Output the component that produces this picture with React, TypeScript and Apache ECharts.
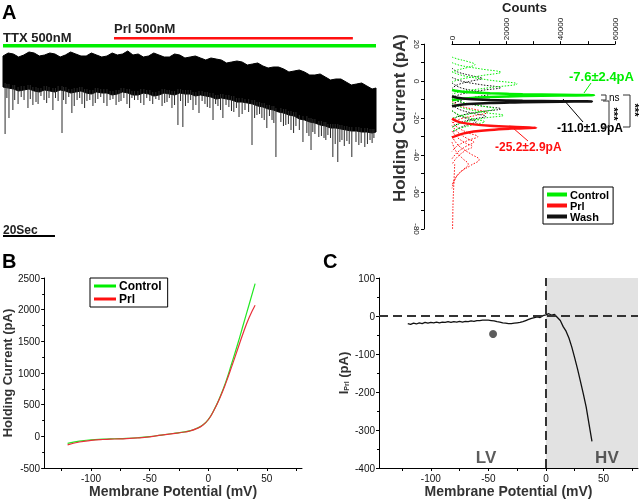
import React, { useEffect, useRef } from "react";
import * as echarts from "echarts";

const FONT = '"Liberation Sans", Arial, Helvetica, sans-serif';

// ---------------- Panel A: recording trace (time in s, current in pA, offset) ----------------
const traceTime = [0, 2, 4, 6, 8, 10, 12, 14, 16, 18, 20, 22, 24, 26, 28, 30, 32, 34, 36, 38, 40, 42, 44, 46, 48, 50, 52, 54, 56, 58, 60, 62, 64, 66, 68, 70, 72, 74, 76, 78, 80, 82, 84, 86, 88, 90, 92, 94, 96, 98, 100, 102, 104, 106, 108, 110, 112, 114, 116, 118, 120, 122, 124, 126, 128, 130, 132, 134, 136, 138, 140, 142, 143.5];
const traceUpper = [-8, -5, -6, -9, -7, -4, -5, -8, -7, -5, -6, -9, -7, -4, -6, -8, -8, -5, -7, -9, -8, -5, -7, -6, -3, -7, -6, -9, -8, -5, -7, -9, -9, -6, -7, -10, -9, -8, -10, -12, -10, -11, -12, -15, -14, -13, -14, -17, -16, -15, -18, -20, -19, -19, -21, -24, -23, -22, -24, -27, -27, -26, -29, -32, -31, -31, -34, -37, -36, -35, -38, -41, -40];
const traceLower = [-39, -40, -41, -43, -42, -41, -43, -44, -42, -43, -44, -42, -43, -45, -44, -43, -45, -46, -44, -45, -45, -47, -46, -44, -45, -47, -47, -45, -46, -48, -47, -45, -46, -47, -45, -46, -46, -48, -47, -48, -49, -51, -50, -51, -52, -54, -54, -55, -56, -58, -59, -61, -62, -64, -65, -67, -68, -71, -72, -74, -75, -77, -78, -80, -80, -81, -82, -83, -83, -84, -84, -85, -84];
const traceSpikes = [
  [0.8, -86], [1.5, -50], [2.3, -70], [3.8, -62], [4.5, -52], [5.8, -56], [7, -49], [8.1, -52], [9.6, -60], [10.5, -51],
  [11.5, -57], [12.7, -54], [13.5, -56], [14.6, -48], [15.8, -52], [16.8, -55], [17.7, -50], [19.2, -62], [20.2, -50], [21.2, -53],
  [22.7, -85], [23.3, -52], [24.2, -56], [25.3, -49], [26.5, -65], [27.4, -58], [28.5, -52], [29.5, -50], [30.4, -56], [31.4, -60],
  [32.3, -53], [33.4, -52], [34.6, -58], [35.5, -55], [36.5, -51], [37.6, -49], [38.8, -55], [40, -58], [41.2, -52], [42.3, -51],
  [43.5, -57], [44.6, -54], [45.4, -53], [46.5, -50], [47.7, -56], [48.7, -60], [49.6, -50], [50.6, -52], [51.9, -52], [53, -55],
  [54.2, -57], [55.3, -50], [56.5, -53], [57.6, -56], [58.8, -51], [60, -52], [61.2, -58], [62.2, -55], [63.1, -54], [64, -50],
  [65, -60], [66, -57], [67.3, -77], [68.3, -53], [69.2, -79], [70.2, -58], [71.2, -55], [72.2, -52], [73.1, -62], [74.2, -57],
  [75.4, -65], [76.6, -53], [77.7, -56], [78.6, -59], [79.6, -60], [80.8, -72], [81.8, -56], [82.7, -58], [83.7, -62], [84.6, -70],
  [85.8, -57], [86.9, -59], [87.9, -63], [88.8, -64], [89.8, -60], [90.8, -69], [92, -66], [93.1, -62], [94.5, -64], [95.8, -97],
  [96.8, -70], [97.7, -67], [98.7, -66], [99.6, -70], [100.5, -72], [101.5, -80], [102.5, -68], [103.5, -72], [104.2, -75], [105, -109],
  [106.9, -74], [107.9, -78], [108.8, -77], [109.8, -76], [110.8, -82], [111.8, -85], [112.7, -78], [114, -82], [115.4, -94], [116.9, -85],
  [117.7, -88], [118.5, -102], [119.2, -84], [120, -86], [121.5, -89], [122.5, -88], [123.5, -90], [124.2, -92], [125, -87], [126, -90],
  [126.9, -109], [127.8, -96], [128.8, -114], [129.6, -94], [130.4, -92], [131.3, -98], [132.3, -93], [133.2, -96], [134.2, -109], [135.8, -94],
  [136.9, -97], [137.8, -95], [139.2, -99], [140.2, -96], [141.2, -92], [142, -95], [142.7, -90],
];
const ttxPeriod = [0, 143.5];
const prlPeriod = [42.7, 134.6];
const scaleBarSec = [0, 20];

// ---------------- Panel A: holding-current histograms [counts, pA] ----------------
const controlPeak = [[0, -4.8], [2000, -5.4], [6000, -6.0], [14000, -6.6], [26000, -7.1], [40000, -7.4], [52300, -7.6], [40000, -7.8], [26000, -8.1], [14000, -8.6], [6000, -9.2], [2000, -9.8], [0, -10.4]];
const washPeak = [[0, -8.2], [2000, -9.0], [6000, -9.7], [14000, -10.2], [26000, -10.6], [40000, -10.85], [51500, -11.0], [40000, -11.15], [26000, -11.4], [14000, -11.8], [6000, -12.4], [2000, -13.0], [0, -13.6]];
const prlPeak = [[0, -20.3], [1500, -21.5], [4000, -22.6], [8000, -23.4], [14000, -24.1], [22000, -24.7], [31000, -25.2], [22000, -25.7], [14000, -26.4], [8000, -27.3], [4000, -28.4], [1500, -29.6], [0, -30.5]];

const controlCells = [
  [[0, 13], [2000, 12], [6000, 10.5], [8500, 9], [6000, 7.5], [2000, 6], [0, 5]],
  [[0, 10], [3000, 8.5], [11000, 6.5], [18000, 4.8], [11000, 3], [3000, 1], [0, -0.5]],
  [[0, 5], [4000, 3], [14000, 0.5], [24000, -1.5], [14000, -3.5], [4000, -5.5], [0, -7]],
  [[0, -9], [4000, -11.5], [11000, -13.5], [16000, -15], [11000, -16.5], [4000, -18.5], [0, -20]],
  [[0, -12], [4000, -14.5], [12000, -17], [19000, -18.5], [12000, -20], [4000, -22.5], [0, -25]],
  [[0, -16], [3000, -18.5], [8000, -20.5], [12000, -22], [8000, -23.5], [3000, -25.5], [0, -27]],
];
const washCells = [
  [[0, 7], [2000, 5], [7000, 3], [11000, 1.5], [7000, 0], [2000, -2], [0, -4]],
  [[0, 2], [3500, 0], [11000, -2], [18000, -3.5], [11000, -5], [3500, -7], [0, -9]],
  [[0, -1], [3000, -3.5], [9000, -5.5], [14000, -7], [9000, -8.5], [3000, -10.5], [0, -12.5]],
  [[0, -9], [3500, -11.5], [11000, -13.5], [18000, -15], [11000, -16.5], [3500, -18.5], [0, -21]],
  [[0, -13], [3000, -15.5], [8000, -17.5], [12500, -19], [8000, -20.5], [3000, -22.5], [0, -25]],
  [[0, -16], [2500, -18.5], [6000, -20.5], [9000, -22], [6000, -23.5], [2500, -25.5], [0, -28]],
];
const prlCells = [
  [[0, -11], [3000, -13.5], [9000, -15.5], [13000, -17], [9000, -18.5], [3000, -20.5], [0, -23]],
  [[0, -22], [2000, -25], [6000, -28], [9500, -30], [6000, -32], [2000, -35], [0, -38]],
  [[0, -24], [2000, -27.5], [5500, -31], [8000, -33], [5500, -35], [2000, -38.5], [0, -42]],
  [[0, -27], [2000, -30.5], [5000, -33.5], [7500, -35.5], [5000, -37.5], [2000, -41], [0, -45]],
  [[0, -30], [2500, -35], [7000, -39.5], [10000, -42.5], [7000, -45.5], [2500, -50], [0, -56]],
  [[0, -33], [1500, -38], [4000, -42], [6000, -45], [4000, -48], [1500, -52], [0, -58]],
  [[1000, -45], [700, -55], [400, -65], [300, -72], [200, -80]],
];

// ---------------- Panel B: I-V curves ----------------
const ivVoltage = [-120, -110, -100, -90, -80, -70, -60, -50, -40, -30, -20, -15, -10, -5, 0, 5, 10, 15, 20, 25, 30, 35, 40];
const ivControl = [-110, -75, -55, -45, -38, -32, -22, -5, 20, 45, 70, 90, 125, 175, 265, 420, 620, 860, 1150, 1450, 1770, 2090, 2410];
const ivPrl = [-135, -90, -65, -50, -42, -35, -25, -8, 18, 42, 68, 88, 122, 172, 262, 415, 610, 840, 1100, 1370, 1640, 1880, 2070];

// ---------------- Panel C: Prl-sensitive current ----------------
const diffVoltage = [-120, -117.5, -115, -112.5, -110, -107.5, -105, -102.5, -100, -97.5, -95, -92.5, -90, -87.5, -85, -82.5, -80, -77.5, -75, -72.5, -70, -67.5, -65, -62.5, -60, -57.5, -55, -52.5, -50, -47.5, -45, -42.5, -40, -37.5, -35, -32.5, -30, -27.5, -25, -22.5, -20, -17.5, -15, -12.5, -10, -7.5, -5, -2.5, 0, 2.5, 5, 7.5, 10, 12.5, 15, 17.5, 20, 22.5, 25, 27.5, 30, 32.5, 35, 37.5, 40];
const diffCurrent = [-20, -22, -19, -21, -18, -20, -17, -19, -17, -18, -16, -18, -16, -17, -15, -17, -15, -16, -14, -16, -14, -15, -13, -14, -12, -12, -11, -11, -11, -12, -13, -15, -16, -18, -19, -20, -20, -19, -18, -17, -15, -12, -9, -6, -4, -2, -4, 1, 3, 6, 2, 4, -4, -12, -28, -40, -58, -82, -110, -140, -172, -205, -240, -285, -330];
const lvMarker = [[-45.9, -47.4]];
const regionLabels = [{ name: "LV", value: [-52, -372] }, { name: "HV", value: [53, -372] }];

const GREEN = "#00ee00";
const RED = "#ff1010";

function cellSeries(curves: number[][][], color: string) {
  return curves.map((d) => ({
    type: "line",
    name: "cell",
    xAxisIndex: 1,
    yAxisIndex: 1,
    data: d,
    smooth: 0.4,
    showSymbol: false,
    silent: true,
    lineStyle: { color, width: 1, type: [1.5, 1.5] },
    z: 2,
  }));
}

export default function App() {
  const ref = useRef<HTMLDivElement>(null);
  useEffect(() => {
    if (!ref.current) return;
    const chart = echarts.init(ref.current, undefined, { renderer: "svg" });
    const tick = { fontFamily: FONT, fontSize: 10, color: "#111", formatter: (v: number) => String(v) };
    const axisLine = { show: true, onZero: false, lineStyle: { color: "#000", width: 1 } };
    const option: any = {
      animation: false,
      textStyle: { fontFamily: FONT },
      grid: [
        { left: 3, top: 18, width: 373, height: 222 },
        { left: 452, top: 43, width: 163, height: 186 },
        { left: 42, top: 278, width: 260, height: 190 },
        { left: 379, top: 278, width: 259, height: 190 },
      ],
      xAxis: [
        { gridIndex: 0, type: "value", min: 0, max: 143.5, show: false },
        {
          gridIndex: 1, type: "value", min: 0, max: 60000, position: "top",
          name: "Counts", nameLocation: "middle", nameGap: 30,
          nameTextStyle: { fontFamily: FONT, fontWeight: "bold", fontSize: 13, color: "#222", padding: [0, 18, 0, 0] },
          axisLine, splitLine: { show: false },
          axisTick: { show: true, length: 3, customValues: [0, 10000, 20000, 30000, 40000, 50000, 60000], lineStyle: { color: "#000" } },
          axisLabel: { ...tick, fontSize: 8, rotate: -90, margin: 4, customValues: [0, 20000, 40000, 60000] },
        },
        {
          gridIndex: 2, type: "value", min: -140, max: 80,
          name: "Membrane Potential (mV)", nameLocation: "middle", nameGap: 11,
          nameTextStyle: { fontFamily: FONT, fontWeight: "bold", fontSize: 14, color: "#333" },
          axisLine, splitLine: { show: false },
          axisTick: { show: true, length: 3, customValues: [-125, -100, -75, -50, -25, 0, 25, 50, 75], lineStyle: { color: "#000" } },
          axisLabel: { ...tick, margin: 5, customValues: [-100, -50, 0, 50] },
        },
        {
          gridIndex: 3, type: "value", min: -145, max: 80,
          name: "Membrane Potential (mV)", nameLocation: "middle", nameGap: 11,
          nameTextStyle: { fontFamily: FONT, fontWeight: "bold", fontSize: 14, color: "#333" },
          axisLine, splitLine: { show: false },
          axisTick: { show: true, length: 3, customValues: [-125, -100, -75, -50, -25, 0, 25, 50, 75], lineStyle: { color: "#000" } },
          axisLabel: { ...tick, margin: 5, customValues: [-100, -50, 0, 50] },
        },
      ],
      yAxis: [
        { gridIndex: 0, type: "value", min: -192, max: 30, show: false },
        {
          gridIndex: 1, type: "value", min: -80, max: 20, offset: 28,
          axisLine, splitLine: { show: false },
          axisTick: { show: true, length: 3, customValues: [-80, -70, -60, -50, -40, -30, -20, -10, 0, 10, 20], lineStyle: { color: "#000" } },
          axisLabel: { ...tick, fontSize: 8, rotate: -90, margin: 4, customValues: [-80, -60, -40, -20, 0, 20] },
        },
        {
          gridIndex: 2, type: "value", min: -500, max: 2500, interval: 500,
          name: "Holding Current (pA)", nameLocation: "middle", nameGap: 30,
          nameTextStyle: { fontFamily: FONT, fontWeight: "bold", fontSize: 13, color: "#333" },
          axisLine, splitLine: { show: false },
          axisTick: { show: true, length: 3, lineStyle: { color: "#000" } },
          minorTick: { show: true, splitNumber: 2, length: 2, lineStyle: { color: "#000" } },
          axisLabel: { ...tick, margin: 4 },
        },
        {
          gridIndex: 3, type: "value", min: -400, max: 100, interval: 100,
          name: "{b|I}{s|Prl}{b| (pA)}", nameLocation: "middle", nameGap: 29,
          nameTextStyle: {
            rich: {
              b: { fontFamily: FONT, fontWeight: "bold", fontSize: 13, color: "#333" },
              s: { fontFamily: FONT, fontWeight: "bold", fontSize: 7, color: "#333", verticalAlign: "bottom", padding: [6, 0, 0, 0] },
            },
          },
          axisLine, splitLine: { show: false },
          axisTick: { show: true, length: 3, lineStyle: { color: "#000" } },
          minorTick: { show: true, splitNumber: 2, length: 2, lineStyle: { color: "#000" } },
          axisLabel: { ...tick, margin: 4 },
        },
      ],
      legend: [
        {
          data: ["Control", "Prl", "Wash"], left: 543, top: 187, orient: "vertical",
          borderColor: "#000", borderWidth: 1, padding: [2, 4, 2, 4], itemGap: 0,
          itemWidth: 20, itemHeight: 4, icon: "rect",
          textStyle: { fontFamily: FONT, fontWeight: "bold", fontSize: 11, color: "#000", padding: [0, 0, 0, -2] },
        },
        {
          data: ["Control", "Prl"], left: 90, top: 278, orient: "vertical",
          borderColor: "#000", borderWidth: 1, padding: [2, 6, 2, 4], itemGap: 1,
          itemWidth: 22, itemHeight: 3, icon: "rect",
          textStyle: { fontFamily: FONT, fontWeight: "bold", fontSize: 12, color: "#000", padding: [0, 0, 0, -2] },
        },
      ],
      series: [
        // trace band
        {
          type: "custom", name: "trace", xAxisIndex: 0, yAxisIndex: 0, data: [[0, 0]], silent: true,
          renderItem: (_p: any, api: any) => {
            const pts: number[][] = [];
            traceTime.forEach((t, i) => pts.push(api.coord([t, traceUpper[i]])));
            for (let i = traceTime.length - 1; i >= 0; i--) pts.push(api.coord([traceTime[i], traceLower[i]]));
            return { type: "polygon", shape: { points: pts }, style: { fill: "#000", stroke: "#000", lineWidth: 1 } };
          },
        },
        {
          type: "custom", name: "spikes", xAxisIndex: 0, yAxisIndex: 0, data: traceSpikes, silent: true,
          renderItem: (_p: any, api: any) => {
            const t = api.value(0);
            const b = api.value(1);
            const idx = Math.min(traceLower.length - 1, Math.round(t / 2));
            const p1 = api.coord([t, traceLower[idx] + 4]);
            const p2 = api.coord([t, b]);
            return { type: "line", shape: { x1: p1[0], y1: p1[1], x2: p2[0], y2: p2[1] }, style: { stroke: "#2a2a2a", lineWidth: 1 } };
          },
        },
        {
          type: "line", name: "TTX", xAxisIndex: 0, yAxisIndex: 0, showSymbol: false, silent: true,
          data: [[ttxPeriod[0], 2.3], [ttxPeriod[1], 2.3]], lineStyle: { color: GREEN, width: 3.5 },
        },
        {
          type: "line", name: "PrlBar", xAxisIndex: 0, yAxisIndex: 0, showSymbol: false, silent: true,
          data: [[prlPeriod[0], 9.7], [prlPeriod[1], 9.7]], lineStyle: { color: RED, width: 2.5 },
        },
        {
          type: "line", name: "scale", xAxisIndex: 0, yAxisIndex: 0, showSymbol: false, silent: true,
          data: [[scaleBarSec[0], -188], [scaleBarSec[1], -188]], lineStyle: { color: "#000", width: 2 },
        },
        // histograms
        ...cellSeries(prlCells, RED),
        ...cellSeries(washCells, "#111"),
        ...cellSeries(controlCells, GREEN),
        {
          type: "line", name: "Prl", xAxisIndex: 1, yAxisIndex: 1, data: prlPeak, smooth: 0.3, showSymbol: false,
          color: RED, lineStyle: { color: RED, width: 2.5 }, z: 5,
        },
        {
          type: "line", name: "Control", xAxisIndex: 1, yAxisIndex: 1, data: controlPeak, smooth: 0.3, showSymbol: false,
          color: GREEN, lineStyle: { color: GREEN, width: 2.5 }, z: 5,
        },
        {
          type: "line", name: "Wash", xAxisIndex: 1, yAxisIndex: 1, data: washPeak, smooth: 0.3, showSymbol: false,
          color: "#111", lineStyle: { color: "#111", width: 2.5 }, z: 6,
        },
        // Panel B
        {
          type: "line", name: "Control", xAxisIndex: 2, yAxisIndex: 2, smooth: true, showSymbol: false,
          data: ivVoltage.map((v, i) => [v, ivControl[i]]), color: GREEN, lineStyle: { color: "#22e822", width: 1.2 },
        },
        {
          type: "line", name: "Prl", xAxisIndex: 2, yAxisIndex: 2, smooth: true, showSymbol: false,
          data: ivVoltage.map((v, i) => [v, ivPrl[i]]), color: RED, lineStyle: { color: "#e8303a", width: 1.2 },
        },
        // Panel C
        {
          type: "line", name: "IPrl", xAxisIndex: 3, yAxisIndex: 3, showSymbol: false, silent: true,
          data: diffVoltage.map((v, i) => [v, diffCurrent[i]]), lineStyle: { color: "#111", width: 1.3 },
          markArea: { silent: true, itemStyle: { color: "#e2e2e2" }, data: [[{ xAxis: 0, yAxis: -400 }, { xAxis: 80, yAxis: 100 }]] },
          markLine: {
            silent: true, symbol: "none", label: { show: false },
            lineStyle: { color: "#333", width: 2, type: [9, 5] },
            data: [{ yAxis: 0 }, { xAxis: 0 }],
          },
        },
        {
          type: "scatter", name: "marker", xAxisIndex: 3, yAxisIndex: 3, data: lvMarker, symbolSize: 8, silent: true,
          itemStyle: { color: "#333" },
        },
        {
          type: "scatter", name: "regions", xAxisIndex: 3, yAxisIndex: 3, data: regionLabels, symbolSize: 0, silent: true,
          label: { show: true, formatter: "{b}", position: "inside", fontFamily: FONT, fontWeight: "bold", fontSize: 17, color: "#333" },
        },
      ],
      graphic: [
        { type: "text", left: 2, top: 2, style: { text: "A", font: `bold 20px ${FONT}`, fill: "#000" } },
        { type: "text", left: 2, top: 251, style: { text: "B", font: `bold 20px ${FONT}`, fill: "#000" } },
        { type: "text", left: 323, top: 251, style: { text: "C", font: `bold 20px ${FONT}`, fill: "#000" } },
        { type: "text", left: 3, top: 31, style: { text: "TTX 500nM", font: `bold 13px ${FONT}`, fill: "#222" } },
        { type: "text", left: 114, top: 22, style: { text: "Prl 500nM", font: `bold 13px ${FONT}`, fill: "#222" } },
        { type: "text", left: 3, top: 224, style: { text: "20Sec", font: `bold 12px ${FONT}`, fill: "#222" } },
        {
          type: "text", x: 399, y: 118, rotation: Math.PI / 2,
          style: { text: "Holding Current (pA)", font: `bold 17px ${FONT}`, fill: "#333", align: "center", verticalAlign: "middle" },
        },
        { type: "text", x: 569, y: 76, style: { text: "-7.6±2.4pA", font: `bold 13px ${FONT}`, fill: GREEN, verticalAlign: "middle" } },
        { type: "text", x: 557, y: 128, style: { text: "-11.0±1.9pA", font: `bold 12px ${FONT}`, fill: "#000", verticalAlign: "middle" } },
        { type: "text", x: 495, y: 147, style: { text: "-25.2±2.9pA", font: `bold 12px ${FONT}`, fill: RED, verticalAlign: "middle" } },
        { type: "line", shape: { x1: 591, y1: 83, x2: 584, y2: 93 }, style: { stroke: GREEN, lineWidth: 1 } },
        { type: "line", shape: { x1: 563, y1: 99, x2: 583, y2: 122 }, style: { stroke: "#000", lineWidth: 1 } },
        { type: "line", shape: { x1: 513, y1: 128, x2: 528, y2: 141 }, style: { stroke: RED, lineWidth: 1 } },
        { type: "polyline", shape: { points: [[601, 95], [606, 95], [606, 100], [601, 100]] }, style: { stroke: "#333", fill: "none", lineWidth: 1 } },
        { type: "text", x: 609, y: 97, style: { text: "ns", font: `10px ${FONT}`, fill: "#000", verticalAlign: "middle" } },
        { type: "polyline", shape: { points: [[603, 101], [609, 101], [609, 127], [603, 127]] }, style: { stroke: "#333", fill: "none", lineWidth: 1 } },
        { type: "text", x: 614, y: 114, rotation: -Math.PI / 2, style: { text: "***", font: `bold 11px ${FONT}`, fill: "#000", align: "center", verticalAlign: "middle" } },
        { type: "polyline", shape: { points: [[623, 95], [630, 95], [630, 127], [623, 127]] }, style: { stroke: "#333", fill: "none", lineWidth: 1 } },
        { type: "text", x: 635, y: 110, rotation: -Math.PI / 2, style: { text: "***", font: `bold 11px ${FONT}`, fill: "#000", align: "center", verticalAlign: "middle" } },
      ],
    };
    chart.setOption(option);
    return () => chart.dispose();
  }, []);
  return <div ref={ref} style={{ position: "fixed", left: 0, top: 0, width: 640, height: 502 }} />;
}
